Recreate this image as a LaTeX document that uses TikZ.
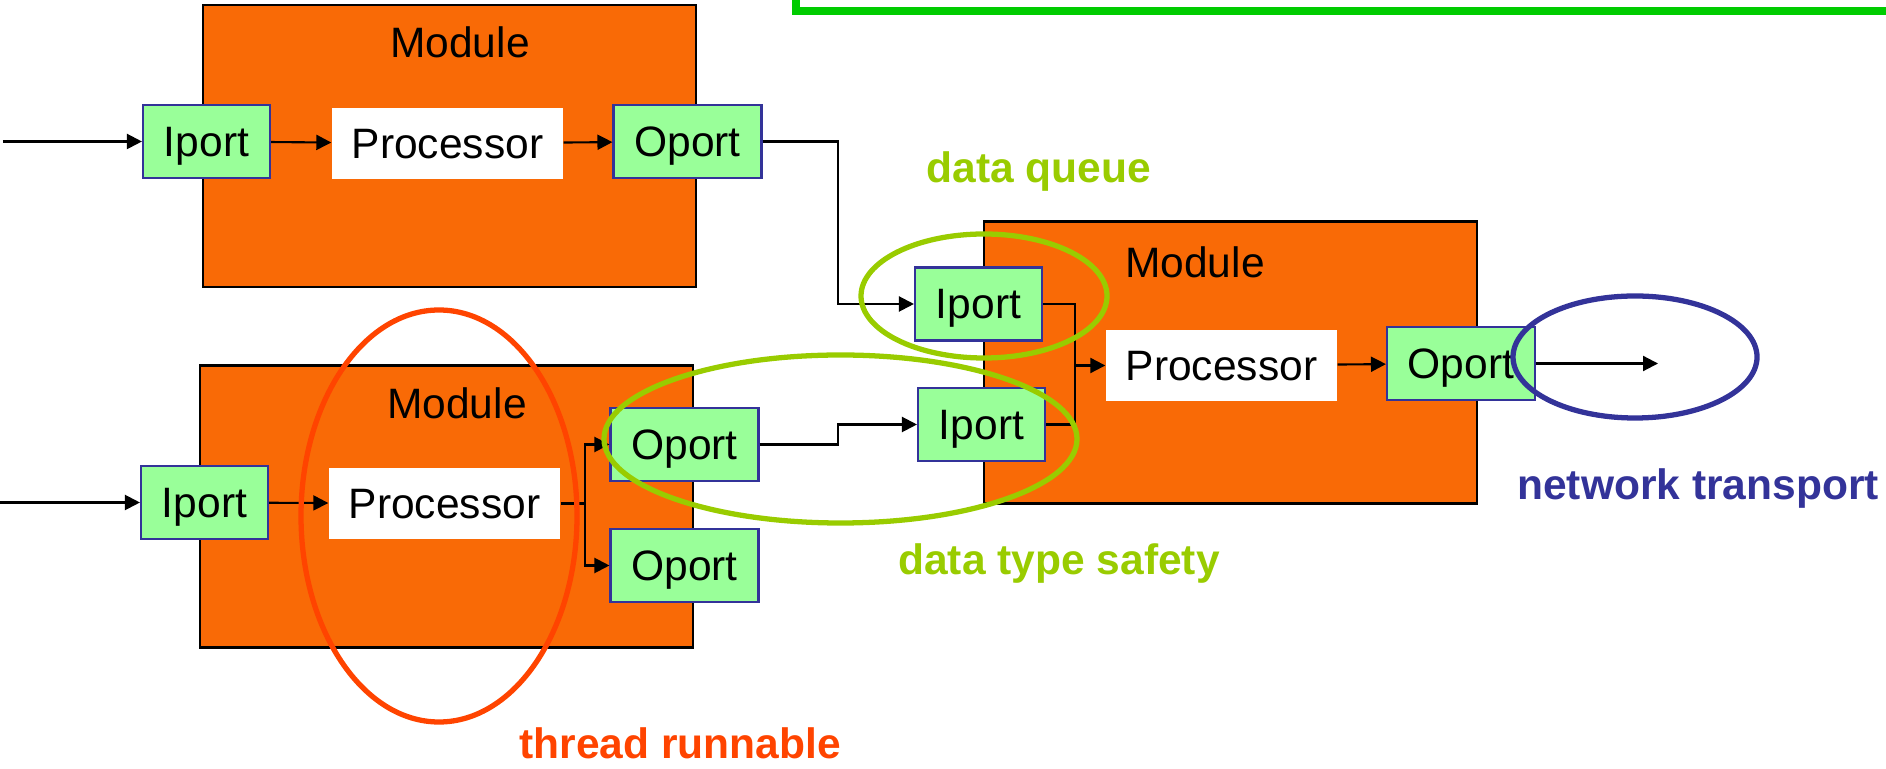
\documentclass[tikz,border=0pt]{standalone}
\usepackage{fontspec}
\setmainfont{Liberation Sans}
\usetikzlibrary{arrows.meta,calc}
\definecolor{mod_orange}{RGB}{249, 106, 6}
\definecolor{port_green}{RGB}{153, 255, 153}
\definecolor{port_blue}{RGB}{51, 51, 153}
\definecolor{ring_green}{RGB}{153, 204, 0}
\definecolor{ring_red}{RGB}{255, 68, 0}
\definecolor{ring_blue}{RGB}{51, 51, 153}
\definecolor{frame_green}{RGB}{0, 204, 0}
\tikzstyle{md}=[rectangle,fill=mod_orange,draw=black,
  line width=0.8pt,inner sep=0pt,minimum width=4.93cm,minimum height=2.82cm]
\tikzstyle{ip}=[rectangle,fill=port_green,draw=port_blue,line width=0.6pt,
  inner sep=0pt,minimum width=1.27cm,minimum height=0.73cm,text depth=0pt,
  font=\fontsize{12.1}{14}\selectfont]
\tikzstyle{op}=[style=ip,minimum width=1.48cm]
\tikzstyle{pr}=[rectangle,fill=white,inner sep=0pt,minimum width=2.31cm,
  minimum height=0.71cm,text depth=0pt,font=\fontsize{12.1}{14}\selectfont]
\tikzstyle{txt}=[anchor=base,inner sep=0pt,font=\fontsize{12.1}{14}\selectfont]
\tikzstyle{lbl}=[anchor=base,inner sep=0pt,font=\fontsize{12.1}{14}\selectfont\bfseries]
\tikzstyle{flow}=[line width=0.6pt,-{Triangle[length=0.15cm,width=0.15cm]}]
\tikzstyle{wire}=[line width=0.6pt]
\tikzstyle{ring}=[line width=1.5pt]
\tikzstyle{none}=[]

\begin{document}
\begin{tikzpicture}
    \useasboundingbox (0, 0) rectangle (18.86, -7.69);
            \draw [line width=2.2pt, draw=frame_green] (7.96, -0.11) rectangle (19.5, 1);
            \node [style=md] (0) at (4.495, -1.46) {};
            \node [style=ip] (1) at (2.065, -1.415) {Iport};
            \node [style=pr] (2) at (4.475, -1.435) {Processor};
            \node [style=op] (3) at (6.875, -1.415) {Oport};
            \node [style=md] (4) at (4.465, -5.065) {};
            \node [style=ip] (5) at (2.045, -5.025) {Iport};
            \node [style=pr] (6) at (4.445, -5.035) {Processor};
            \node [style=op] (7) at (6.845, -4.445) {Oport};
            \node [style=op] (8) at (6.845, -5.655) {Oport};
            \node [style=md] (9) at (12.305, -3.625) {};
            \node [style=ip] (10) at (9.785, -3.04) {Iport};
            \node [style=ip] (11) at (9.815, -4.245) {Iport};
            \node [style=pr] (12) at (12.215, -3.655) {Processor};
            \node [style=op] (13) at (14.61, -3.635) {Oport};
            \node [style=txt] (14) at (4.60, -0.58) {Module};
            \node [style=txt] (15) at (4.57, -4.19) {Module};
            \node [style=txt] (16) at (11.95, -2.78) {Module};
            \node [style=lbl, text=ring_green] (17) at (10.39, -1.83) {data queue};
            \node [style=lbl, text=ring_green] (18) at (10.59, -5.75) {data type safety};
            \node [style=lbl, text=ring_blue] (19) at (16.98, -5.00) {network transport};
            \node [style=lbl, text=ring_red] (20) at (6.80, -7.58) {thread runnable};
            \node [style=none] (21) at (0.03, -1.415) {};
            \node [style=none] (22) at (0, -5.025) {};
            \node [style=none] (23) at (8.38, -1.415) {};
            \node [style=none] (24) at (8.38, -3.04) {};
            \node [style=none] (25) at (5.85, -5.035) {};
            \node [style=none] (26) at (5.85, -4.445) {};
            \node [style=none] (27) at (5.85, -5.655) {};
            \node [style=none] (28) at (8.38, -4.445) {};
            \node [style=none] (29) at (8.38, -4.245) {};
            \node [style=none] (30) at (10.75, -3.04) {};
            \node [style=none] (31) at (10.75, -4.245) {};
            \node [style=none] (32) at (10.75, -3.655) {};
            \node [style=none] (33) at (16.58, -3.635) {};
            \draw [style=flow] (21.center) to (1);
            \draw [style=flow] (1) to (2);
            \draw [style=flow] (2) to (3);
            \draw [style=flow] (3) to (23.center) to (24.center) to (10);
            \draw [style=flow] (22.center) to (5);
            \draw [style=flow] (5) to (6);
            \draw [style=wire] (6) to (25.center);
            \draw [style=flow] (25.center) to (26.center) to (7);
            \draw [style=flow] (25.center) to (27.center) to (8);
            \draw [style=flow] (7) to (28.center) to (29.center) to (11);
            \draw [style=wire] (10) to (30.center) to (31.center) to (11);
            \draw [style=flow] (32.center) to (12);
            \draw [style=flow] (12) to (13);
            \draw [style=flow] (13) to (33.center);
            \draw [style=ring, draw=ring_red] (4.39, -5.16) ellipse [x radius=1.38, y radius=2.06];
            \draw [style=ring, draw=ring_green] (9.84, -2.96) ellipse [x radius=1.23, y radius=0.62];
            \draw [style=ring, draw=ring_green] (8.405, -4.39) ellipse [x radius=2.365, y radius=0.84];
            \draw [style=ring, draw=ring_blue] (16.35, -3.57) ellipse [x radius=1.22, y radius=0.61];
    \end{tikzpicture}
\end{document}
